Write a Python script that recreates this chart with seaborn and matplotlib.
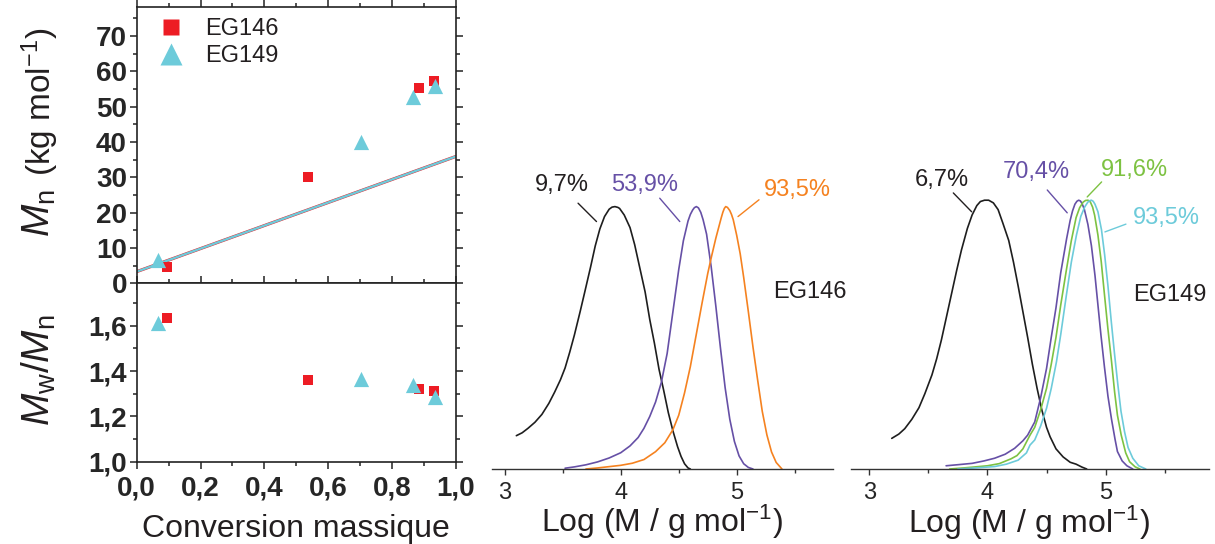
import matplotlib
matplotlib.use("Agg")
import matplotlib.pyplot as plt
import matplotlib.ticker as mticker
from matplotlib.lines import Line2D
import seaborn as sns

# ------------------------------------------------------------
# Data
# ------------------------------------------------------------
# Mn and dispersity vs. mass conversion
conv_146 = [0.095, 0.538, 0.885, 0.933]
mn_146 = [4.7, 30.2, 55.2, 57.3]
disp_146 = [1.635, 1.36, 1.32, 1.312]

conv_149 = [0.066, 0.703, 0.867, 0.934]
mn_149 = [6.6, 40.1, 52.6, 55.8]
disp_149 = [1.613, 1.365, 1.338, 1.287]

# theoretical Mn lines (both series nearly identical)
conv_th = [0.0, 1.0]
mn_th_146 = [3.3, 35.9]
mn_th_149 = [3.3, 35.9]

# SEC traces, EG146 (normalised height)
lm_146_a = [3.10, 3.15, 3.20, 3.26, 3.32, 3.38, 3.43, 3.48, 3.52, 3.56, 3.60, 3.65,
            3.69, 3.74, 3.78, 3.82, 3.86, 3.90, 3.925, 3.95, 3.975, 3.99, 4.03, 4.08,
            4.12, 4.16, 4.21, 4.25, 4.29, 4.33, 4.37, 4.41, 4.45, 4.49, 4.52, 4.55,
            4.58, 4.60]
w_146_a = [0.127, 0.138, 0.155, 0.178, 0.208, 0.250, 0.293, 0.340, 0.385, 0.445, 0.510, 0.600,
           0.675, 0.770, 0.850, 0.915, 0.962, 0.990, 0.998, 1.000, 0.997, 0.993, 0.968, 0.920,
           0.855, 0.775, 0.675, 0.570, 0.480, 0.380, 0.300, 0.215, 0.145, 0.085, 0.048, 0.020,
           0.004, 0.000]

lm_146_b = [3.52, 3.60, 3.70, 3.80, 3.90, 4.00, 4.08, 4.15, 4.20, 4.25, 4.30, 4.35,
            4.40, 4.45, 4.50, 4.54, 4.58, 4.60, 4.62, 4.635, 4.652, 4.67, 4.69, 4.71,
            4.74, 4.78, 4.82, 4.86, 4.90, 4.94, 4.98, 5.02, 5.06, 5.10, 5.14]
w_146_b = [0.003, 0.008, 0.016, 0.027, 0.042, 0.062, 0.088, 0.120, 0.155, 0.200, 0.255, 0.330,
           0.440, 0.600, 0.760, 0.870, 0.945, 0.970, 0.987, 0.996, 1.000, 0.995, 0.978, 0.950,
           0.895, 0.770, 0.620, 0.460, 0.310, 0.190, 0.105, 0.050, 0.020, 0.006, 0.000]

lm_146_c = [3.70, 3.80, 3.90, 4.00, 4.10, 4.20, 4.30, 4.38, 4.45, 4.50, 4.55, 4.60,
            4.65, 4.70, 4.75, 4.78, 4.82, 4.85, 4.865, 4.88, 4.893, 4.905, 4.92, 4.94,
            4.955, 4.97, 5.00, 5.03, 5.06, 5.10, 5.14, 5.18, 5.22, 5.26, 5.30, 5.34, 5.39]
w_146_c = [0.000, 0.004, 0.009, 0.014, 0.022, 0.036, 0.066, 0.100, 0.150, 0.205, 0.290, 0.390,
           0.510, 0.630, 0.745, 0.805, 0.880, 0.930, 0.955, 0.978, 0.993, 1.000, 0.997, 0.985,
           0.970, 0.950, 0.890, 0.820, 0.730, 0.600, 0.465, 0.340, 0.220, 0.130, 0.065, 0.025,
           0.000]

# SEC traces, EG149
lm_149_a = [3.19, 3.25, 3.30, 3.36, 3.42, 3.47, 3.53, 3.57, 3.61, 3.66, 3.70, 3.74,
            3.78, 3.83, 3.87, 3.91, 3.94, 3.975, 4.01, 4.05, 4.09, 4.13, 4.18, 4.22, 4.26,
            4.30, 4.34, 4.38, 4.42, 4.46, 4.50, 4.53, 4.58, 4.64, 4.70, 4.75, 4.80, 4.84]
w_149_a = [0.114, 0.130, 0.150, 0.185, 0.228, 0.280, 0.350, 0.410, 0.480, 0.580, 0.660, 0.740,
           0.815, 0.895, 0.945, 0.980, 0.995, 1.000, 1.000, 0.990, 0.965, 0.915, 0.850, 0.770,
           0.680, 0.585, 0.490, 0.390, 0.300, 0.220, 0.155, 0.120, 0.075, 0.045, 0.025, 0.018,
           0.007, 0.000]

lm_149_b = [3.65, 3.75, 3.87, 3.97, 4.06, 4.15, 4.23, 4.30, 4.34, 4.40, 4.45, 4.50,
            4.54, 4.58, 4.62, 4.67, 4.70, 4.72, 4.74, 4.757, 4.772, 4.787, 4.80, 4.82,
            4.85, 4.88, 4.91, 4.935, 4.96, 4.99, 5.02, 5.05, 5.08, 5.10, 5.14, 5.18, 5.23]
w_149_b = [0.012, 0.016, 0.021, 0.030, 0.040, 0.055, 0.077, 0.105, 0.126, 0.175, 0.265, 0.374,
           0.490, 0.600, 0.730, 0.857, 0.925, 0.960, 0.985, 0.996, 1.000, 0.997, 0.988, 0.966,
           0.910, 0.830, 0.720, 0.610, 0.500, 0.380, 0.270, 0.185, 0.110, 0.065, 0.030, 0.012,
           0.000]

lm_149_c = [3.68, 3.80, 3.90, 4.00, 4.10, 4.20, 4.25, 4.30, 4.36, 4.40, 4.45, 4.50,
            4.54, 4.58, 4.62, 4.67, 4.71, 4.75, 4.78, 4.81, 4.83, 4.851, 4.87, 4.89,
            4.907, 4.935, 4.963, 4.99, 5.019, 5.05, 5.076, 5.10, 5.132, 5.17, 5.203, 5.25,
            5.29]
w_149_c = [0.000, 0.004, 0.008, 0.012, 0.020, 0.038, 0.050, 0.075, 0.126, 0.155, 0.220, 0.300,
           0.390, 0.490, 0.610, 0.746, 0.850, 0.935, 0.972, 0.993, 0.999, 1.000, 0.994, 0.974,
           0.944, 0.870, 0.771, 0.650, 0.523, 0.400, 0.287, 0.200, 0.126, 0.060, 0.027, 0.008,
           0.000]

lm_149_d = [3.75, 3.90, 4.06, 4.16, 4.26, 4.33, 4.36, 4.40, 4.45, 4.50, 4.54, 4.584,
            4.62, 4.668, 4.71, 4.753, 4.79, 4.823, 4.85, 4.865, 4.879, 4.895, 4.91, 4.935,
            4.965, 4.992, 5.02, 5.048, 5.075, 5.104, 5.13, 5.16, 5.19, 5.23, 5.28, 5.34]
w_149_d = [0.000, 0.004, 0.009, 0.018, 0.033, 0.060, 0.089, 0.108, 0.160, 0.226, 0.300, 0.399,
           0.500, 0.647, 0.770, 0.870, 0.940, 0.975, 0.993, 0.998, 1.000, 0.996, 0.985, 0.957,
           0.890, 0.796, 0.680, 0.548, 0.430, 0.312, 0.215, 0.139, 0.080, 0.040, 0.012, 0.000]

labels_146 = ["9,7%", "53,9%", "93,5%"]
labels_149 = ["6,7%", "70,4%", "91,6%", "93,5%"]

# ------------------------------------------------------------
# Style
# ------------------------------------------------------------
RED = "#ED1C24"
CYAN = "#6DCBDA"
PURPLE = "#6650A6"
ORANGE = "#F58220"
GREEN = "#7DC242"
BLACK = "#1E1E1E"
TXT = "#231F20"

sns.set_theme(style="ticks")
plt.rcParams["font.family"] = ["Liberation Sans", "DejaVu Sans"]
plt.rcParams["mathtext.fontset"] = "custom"
plt.rcParams["mathtext.rm"] = "Liberation Sans"
plt.rcParams["mathtext.it"] = "Liberation Sans:italic"
plt.rcParams["mathtext.bf"] = "Liberation Sans:bold"
plt.rcParams["text.color"] = TXT

W, H = 1215, 544
fig = plt.figure(figsize=(W / 100, H / 100), dpi=100)


def px_axes(x0, y0, x1, y1):
    return fig.add_axes([x0 / W, 1 - y1 / H, (x1 - x0) / W, (y1 - y0) / H])


comma = mticker.FuncFormatter(lambda v, p: f"{v:.1f}".replace(".", ","))

# ------------------------------------------------------------
# Left: Mn and dispersity
# ------------------------------------------------------------
ax_mn = px_axes(136.7, 6.7, 455.7, 283.3)
ax_d = px_axes(136.7, 283.3, 455.7, 461.7)

sns.lineplot(x=conv_th, y=mn_th_146, ax=ax_mn, color=RED, lw=2.2, zorder=2)
sns.lineplot(x=conv_th, y=mn_th_149, ax=ax_mn, color=CYAN, lw=1.7, zorder=2)
sns.scatterplot(x=conv_146, y=mn_146, ax=ax_mn, marker="s", s=60, color=RED,
                linewidth=0, zorder=3)
sns.scatterplot(x=conv_149, y=mn_149, ax=ax_mn, marker="^", s=120, color=CYAN,
                linewidth=0, zorder=4)
sns.scatterplot(x=conv_146, y=disp_146, ax=ax_d, marker="s", s=60, color=RED,
                linewidth=0, zorder=3)
sns.scatterplot(x=conv_149, y=disp_149, ax=ax_d, marker="^", s=120, color=CYAN,
                linewidth=0, zorder=4)

ax_mn.set_xlim(0, 1)
ax_mn.set_ylim(0, 78.3)
ax_d.set_xlim(0, 1)
ax_d.set_ylim(1.0, 1.787)

ax_mn.yaxis.set_major_locator(mticker.FixedLocator([0, 10, 20, 30, 40, 50, 60, 70]))
ax_mn.yaxis.set_minor_locator(mticker.MultipleLocator(5))
ax_d.yaxis.set_major_locator(mticker.FixedLocator([1.0, 1.2, 1.4, 1.6]))
ax_d.yaxis.set_minor_locator(mticker.MultipleLocator(0.1))
ax_d.yaxis.set_major_formatter(comma)
for a in (ax_mn, ax_d):
    a.xaxis.set_major_locator(mticker.MultipleLocator(0.2))
    a.xaxis.set_minor_locator(mticker.MultipleLocator(0.1))
    a.xaxis.set_major_formatter(comma)
    a.tick_params(which="both", direction="out", top=True, right=True,
                  width=1.1, color="#222222")
    a.tick_params(which="major", length=5, labelsize=20, pad=2)
    a.tick_params(which="minor", length=3)
    for s in a.spines.values():
        s.set_linewidth(1.2)
        s.set_color("#222222")
    a.set_xlabel("")
    a.set_ylabel("")
ax_mn.tick_params(labelbottom=False)
ax_d.tick_params(axis="x", pad=5)
for t in ax_mn.get_yticklabels() + ax_d.get_yticklabels() + ax_d.get_xticklabels():
    t.set_fontweight("bold")

handles = [
    Line2D([], [], marker="s", ls="", color=RED, ms=12, mec="none"),
    Line2D([], [], marker="^", ls="", color=CYAN, ms=15.5, mec="none"),
]
ax_mn.legend(handles, ["EG146", "EG149"], loc="upper left",
             bbox_to_anchor=(0.07, 0.96), frameon=False, fontsize=17,
             handlelength=1.0, handletextpad=0.95, labelspacing=0.22,
             borderpad=0, borderaxespad=0)

# y labels (M drawn larger than the units, as in the reference)
fig.text(50 / W, 1 - 213 / H, r"$M_\mathrm{n}$", rotation=90, rotation_mode="anchor",
         ha="center", va="baseline", fontsize=28)
fig.text(51 / W, 1 - 102 / H, r"(kg mol$^{-1}$)", rotation=90, rotation_mode="anchor",
         ha="center", va="baseline", fontsize=24)
fig.text(50 / W, 1 - 370 / H, r"$M_\mathrm{w}$/$M_\mathrm{n}$", rotation=90,
         rotation_mode="anchor", ha="center", va="baseline", fontsize=28)
fig.text(296 / W, 1 - 537 / H, "Conversion massique", ha="center", va="baseline",
         fontsize=23)

# ------------------------------------------------------------
# SEC panels
# ------------------------------------------------------------
ax_146 = px_axes(492, 141, 833, 469)
ax_149 = px_axes(851, 133, 1209, 469)

for lm, w, c in [(lm_146_a, w_146_a, BLACK), (lm_146_b, w_146_b, PURPLE),
                 (lm_146_c, w_146_c, ORANGE)]:
    sns.lineplot(x=lm, y=w, ax=ax_146, color=c, lw=1.2, estimator=None)
for lm, w, c in [(lm_149_a, w_149_a, BLACK), (lm_149_b, w_149_b, PURPLE),
                 (lm_149_c, w_149_c, GREEN), (lm_149_d, w_149_d, CYAN)]:
    sns.lineplot(x=lm, y=w, ax=ax_149, color=c, lw=1.2, estimator=None)

ax_146.set_xlim(2.89, 5.83)
ax_149.set_xlim(2.845, 5.875)
for a in (ax_146, ax_149):
    a.set_ylim(0, 1.25)
    sns.despine(ax=a, left=True, top=True, right=True)
    a.spines["bottom"].set_linewidth(1.0)
    a.spines["bottom"].set_color("#333333")
    a.set_yticks([])
    a.xaxis.set_major_locator(mticker.FixedLocator([3, 4, 5]))
    a.xaxis.set_minor_locator(mticker.FixedLocator([3.5, 4.5, 5.5]))
    a.tick_params(axis="x", which="both", direction="out", color="#333333", width=1.0)
    a.tick_params(axis="x", which="major", length=4.5, labelsize=17, pad=5)
    a.tick_params(axis="x", which="minor", length=3)
    a.set_xlabel("")
    a.set_ylabel("")
    a.patch.set_alpha(0)

fig.text(662 / W, 1 - 532 / H, r"Log (M / g mol$^{-1}$)", ha="center", va="baseline",
         fontsize=23)
fig.text(1029 / W, 1 - 533 / H, r"Log (M / g mol$^{-1}$)", ha="center", va="baseline",
         fontsize=23)

# curve labels and leader lines
lab_pos_146 = [(3.489, 1.083), (4.207, 1.083), (5.526, 1.064)]
lead_146 = [((3.632, 3.791), (1.013, 0.943)), ((4.336, 4.509), (1.032, 0.943)),
            ((5.192, 5.011), (1.026, 0.962))]
for txt, (x, y), (lx, ly), c in zip(labels_146, lab_pos_146, lead_146,
                                    [TXT, PURPLE, ORANGE]):
    ax_146.text(x, y, txt, color=c, fontsize=17, ha="center", va="center")
    ax_146.plot(lx, ly, color=c, lw=1.0)
ax_146.text(5.629, 0.675, "EG146", color=TXT, fontsize=17, ha="center", va="center")

lab_pos_149 = [(3.613, 1.077), (4.416, 1.105), (5.248, 1.112), (5.516, 0.932)]
lead_149 = [((3.711, 3.866), (1.027, 0.957)), ((4.506, 4.675), (1.038, 0.953)),
            ((4.966, 4.844), (1.068, 1.012)), ((5.172, 4.994), (0.911, 0.882))]
for txt, (x, y), (lx, ly), c in zip(labels_149, lab_pos_149, lead_149,
                                    [TXT, PURPLE, GREEN, CYAN]):
    ax_149.text(x, y, txt, color=c, fontsize=17, ha="center", va="center")
    ax_149.plot(lx, ly, color=c, lw=1.0)
ax_149.text(5.544, 0.647, "EG149", color=TXT, fontsize=17, ha="center", va="center")

fig.savefig("out.png", dpi=100)
